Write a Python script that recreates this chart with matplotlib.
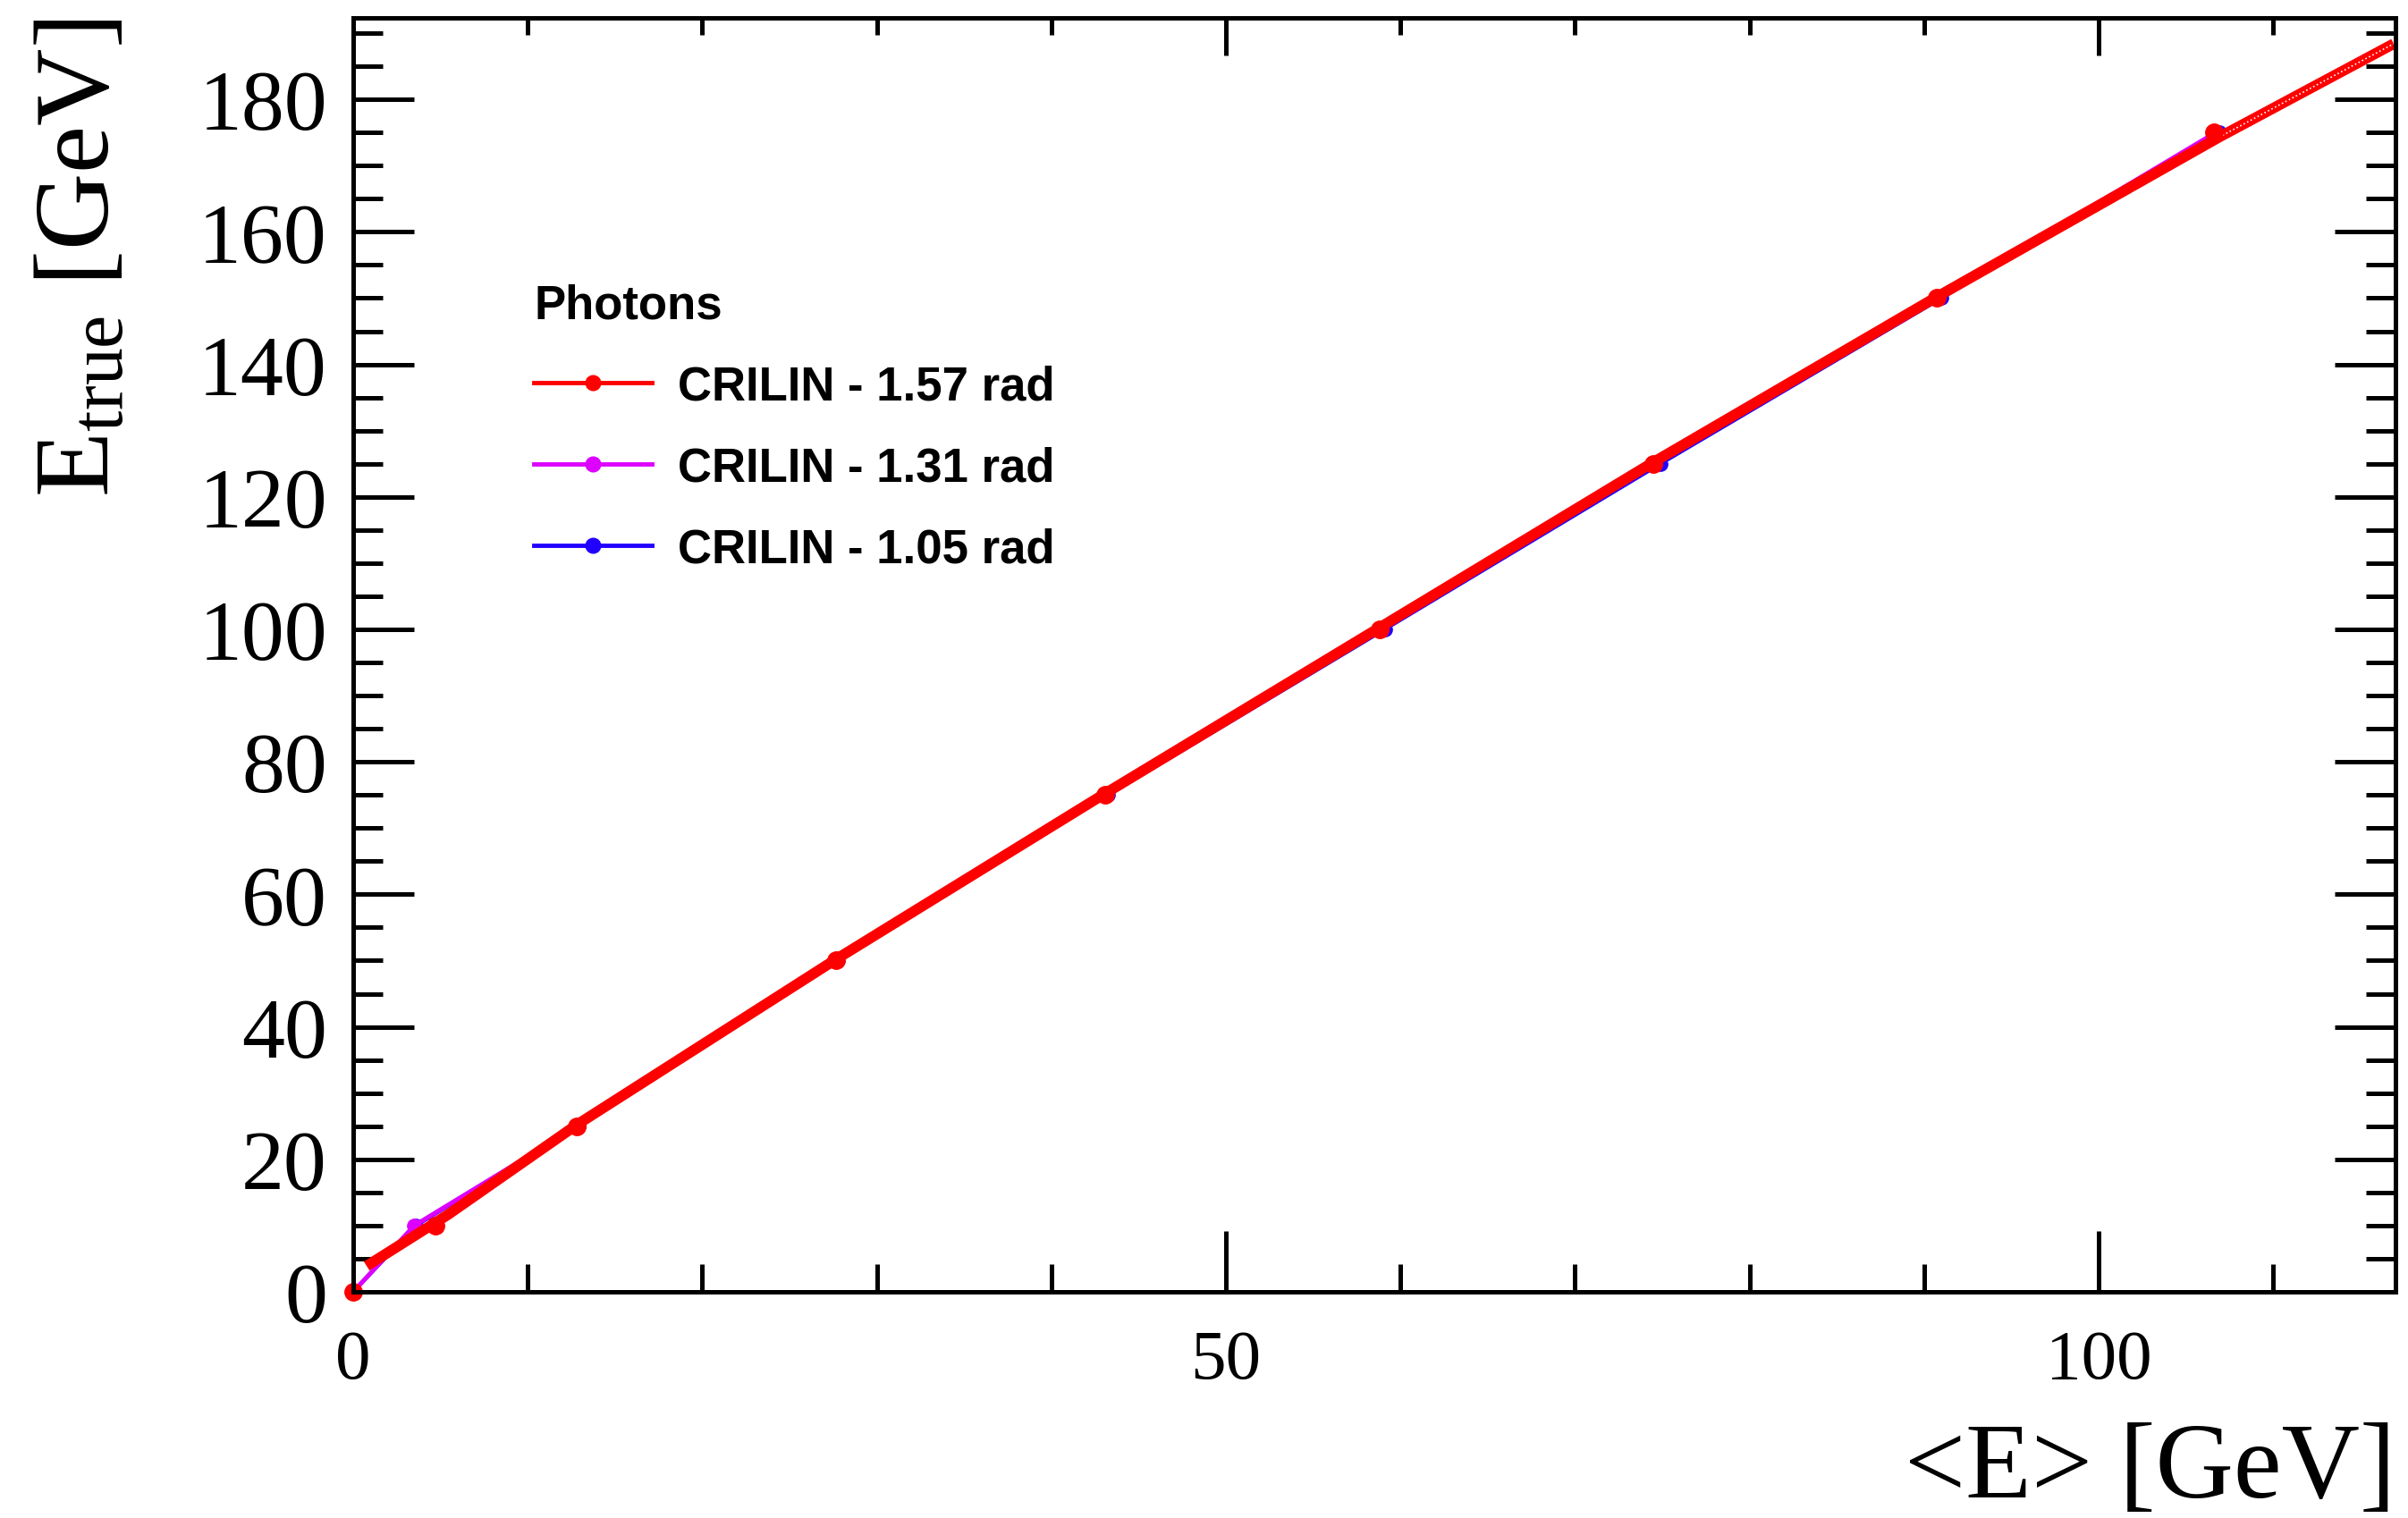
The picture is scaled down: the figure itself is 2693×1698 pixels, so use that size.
import matplotlib
matplotlib.use('Agg')
import matplotlib.pyplot as plt
from matplotlib.lines import Line2D
from matplotlib.ticker import MultipleLocator

# true beam energy of each point (GeV)
e_true = [0, 10, 25, 50, 75, 100, 125, 150, 175]

# mean reconstructed energy <E> (GeV)
e_mean_157 = [0, 4.7, 12.8, 27.65, 43.1, 58.8, 74.5, 90.7, 106.6]
e_mean_131 = [0, 3.5, 12.85, 27.7, 43.15, 58.9, 74.6, 90.8, 106.7]
e_mean_105 = [0, 3.6, 12.9, 27.75, 43.25, 59.1, 74.9, 91.0, 106.9]

# thick red calibration curve for 1.57 rad
fit_x = [0.77, 5.4, 12.8, 27.6, 43.0, 58.7, 74.4, 90.6, 106.9, 116.9]
fit_y = [3.9, 11.6, 25.2, 50.1, 75.1, 100.1, 125.1, 150.0, 174.3, 188.4]

labels = ['CRILIN - 1.57 rad', 'CRILIN - 1.31 rad', 'CRILIN - 1.05 rad']
colors = ['#ff0000', '#dd00ff', '#2200ff']

plt.rcParams['font.family'] = 'Liberation Serif'
plt.rcParams['mathtext.fontset'] = 'custom'
plt.rcParams['mathtext.rm'] = 'Liberation Serif'
plt.rcParams['mathtext.it'] = 'Liberation Serif:italic'

fig = plt.figure(figsize=(26.93, 16.99), dpi=100)
ax = fig.add_axes([0.14668, 0.1489, 0.9948 - 0.14668, 0.98764 - 0.1489])

# draw blue first, red on top
ax.plot(e_mean_105, e_true, color=colors[2], lw=3.0, marker='o', ms=11,
        clip_on=False)
ax.plot(e_mean_131, e_true, color=colors[1], lw=3.6, marker='o', ms=11,
        clip_on=False)
ax.plot(fit_x, fit_y, color=colors[0], lw=8.5, solid_capstyle='butt')
ax.plot(fit_x[-2:], fit_y[-2:], color='white', lw=1.2, ls=':')
ax.plot(e_mean_157, e_true, color=colors[0], ls='none', marker='o', ms=14,
        clip_on=False)

ax.set_xlim(0, 117)
ax.set_ylim(0, 192.3)

ax.xaxis.set_major_locator(MultipleLocator(50))
ax.xaxis.set_minor_locator(MultipleLocator(10))
ax.yaxis.set_major_locator(MultipleLocator(20))
ax.yaxis.set_minor_locator(MultipleLocator(5))

for s in ax.spines.values():
    s.set_linewidth(3.6)

ax.tick_params(axis='x', which='both', direction='in', top=False, width=3.6,
               labelsize=57, pad=30)
ax.tick_params(axis='x', which='major', length=49)
ax.tick_params(axis='x', which='minor', length=22)
ax.tick_params(axis='y', which='both', direction='in', right=True, width=3.6,
               labelsize=69, pad=21)
ax.tick_params(axis='y', which='major', length=49)
ax.tick_params(axis='y', which='minor', length=24)

# shorter ticks on the top axis
top = ax.secondary_xaxis('top')
top.xaxis.set_major_locator(MultipleLocator(50))
top.xaxis.set_minor_locator(MultipleLocator(10))
top.tick_params(axis='x', which='both', direction='in', width=3.6,
                labeltop=False, labelbottom=False)
top.tick_params(axis='x', which='major', length=30)
top.tick_params(axis='x', which='minor', length=14)
top.spines['top'].set_linewidth(3.6)

ax.set_xlabel('<E> [GeV]', fontsize=87, loc='right')
ax.xaxis.set_label_coords(1.0, -0.102)
ax.set_ylabel(r'E$_{\mathrm{true}}$ [GeV]', fontsize=86, loc='top')
ax.yaxis.set_label_coords(-0.109, 1.0)

handles = [Line2D([], [], color=c, lw=3.5, marker='o', ms=12) for c in colors]
leg = ax.legend(handles, labels, title='Photons', loc='upper left',
                bbox_to_anchor=(0.0771, 0.8105), frameon=False, borderpad=0,
                alignment='left', handlelength=2.5, handletextpad=0.55,
                labelspacing=0.78, numpoints=1,
                prop={'family': 'Liberation Sans', 'weight': 'bold', 'size': 38},
                title_fontproperties={'family': 'Liberation Sans',
                                      'weight': 'bold', 'size': 38})

fig.savefig('out.png', dpi=100)
